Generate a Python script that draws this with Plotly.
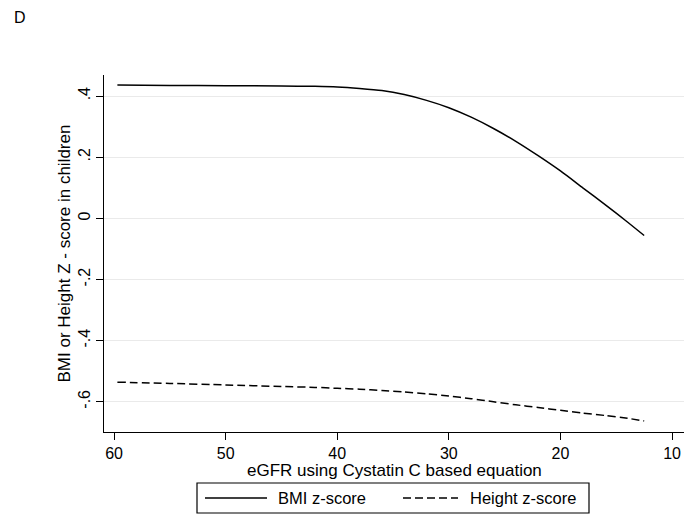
import plotly.graph_objects as go

egfr = [59.7, 55, 50, 45, 42, 40, 38, 36, 34, 32, 30, 28, 26, 24, 22, 20, 18, 16, 14, 12.5]
bmi_z = [0.436, 0.435, 0.434, 0.433, 0.432, 0.430, 0.425, 0.418, 0.405, 0.386, 0.362,
         0.331, 0.294, 0.252, 0.205, 0.155, 0.100, 0.045, -0.012, -0.056]
height_z = [-0.536, -0.540, -0.545, -0.550, -0.553, -0.556, -0.559, -0.563, -0.568, -0.574,
            -0.581, -0.590, -0.600, -0.610, -0.619, -0.628, -0.637, -0.645, -0.654, -0.663]

x_ticks = [60, 50, 40, 30, 20, 10]
y_ticks = [0.4, 0.2, 0, -0.2, -0.4, -0.6]
y_ticktext = [".4", ".2", "0", "-.2", "-.4", "-.6"]

FONT = "Liberation Sans, Arial, Helvetica, sans-serif"

fig = go.Figure()
fig.add_trace(go.Scatter(x=egfr, y=bmi_z, mode="lines", name="BMI z-score",
                         line=dict(color="black", width=1.5, shape="spline", smoothing=0.6),
                         showlegend=False))
fig.add_trace(go.Scatter(x=egfr, y=height_z, mode="lines", name="Height z-score",
                         line=dict(color="black", width=1.5, dash="8px,4px", shape="spline",
                                   smoothing=0.6),
                         showlegend=False))

L, R, T, B = 104, 15, 75, 87
W, H = 699, 519
pw, ph = W - L - R, H - T - B

def px(xp):
    return (xp - L) / pw

def py(yp):
    return (H - B - yp) / ph

fig.update_layout(
    width=W, height=H,
    margin=dict(l=L, r=R, t=T, b=B),
    paper_bgcolor="white", plot_bgcolor="white",
    font=dict(family=FONT, size=16, color="black"),
    xaxis=dict(range=[60.9, 8.93], tickvals=x_ticks, ticks="outside", ticklen=7,
               tickcolor="black", showline=True, linecolor="black", linewidth=1.2,
               showgrid=False, zeroline=False, tickfont=dict(size=16)),
    yaxis=dict(range=[-0.699, 0.469], tickvals=y_ticks, ticktext=y_ticktext, tickangle=-90,
               ticks="outside", ticklen=7, tickcolor="black", showline=True, linecolor="black",
               linewidth=1.2, showgrid=True, gridcolor="#eaeaea", gridwidth=1.2, zeroline=False,
               tickfont=dict(size=16)),
    showlegend=False,
)

# Axis titles
fig.add_annotation(text="eGFR using Cystatin C based equation", xref="paper", yref="paper",
                   x=0.5, y=py(470), xanchor="center", yanchor="middle", showarrow=False,
                   font=dict(size=17))
fig.add_annotation(text="BMI or Height Z - score in children", xref="paper", yref="paper",
                   x=px(64), y=0.5, xanchor="center", yanchor="middle", textangle=-90,
                   showarrow=False, font=dict(size=17))

# Panel label
fig.add_annotation(text="D", xref="paper", yref="paper", x=px(12), y=py(18),
                   xanchor="left", yanchor="middle", showarrow=False, font=dict(size=16))

# Legend box (drawn manually to match Stata style)
fig.add_shape(type="rect", xref="paper", yref="paper",
              x0=px(197), x1=px(589), y0=py(483), y1=py(513),
              line=dict(color="black", width=1.2), fillcolor="white")
fig.add_shape(type="line", xref="paper", yref="paper",
              x0=px(205), x1=px(267), y0=py(498), y1=py(498),
              line=dict(color="black", width=1.5))
fig.add_annotation(text="BMI z-score", xref="paper", yref="paper", x=px(276), y=py(498),
                   xanchor="left", yanchor="middle", showarrow=False, font=dict(size=16.5))
fig.add_shape(type="line", xref="paper", yref="paper",
              x0=px(403), x1=px(458), y0=py(498), y1=py(498),
              line=dict(color="black", width=1.5, dash="8px,4px"))
fig.add_annotation(text="Height z-score", xref="paper", yref="paper", x=px(468), y=py(498),
                   xanchor="left", yanchor="middle", showarrow=False, font=dict(size=16.5))

fig.write_html("out.html")
